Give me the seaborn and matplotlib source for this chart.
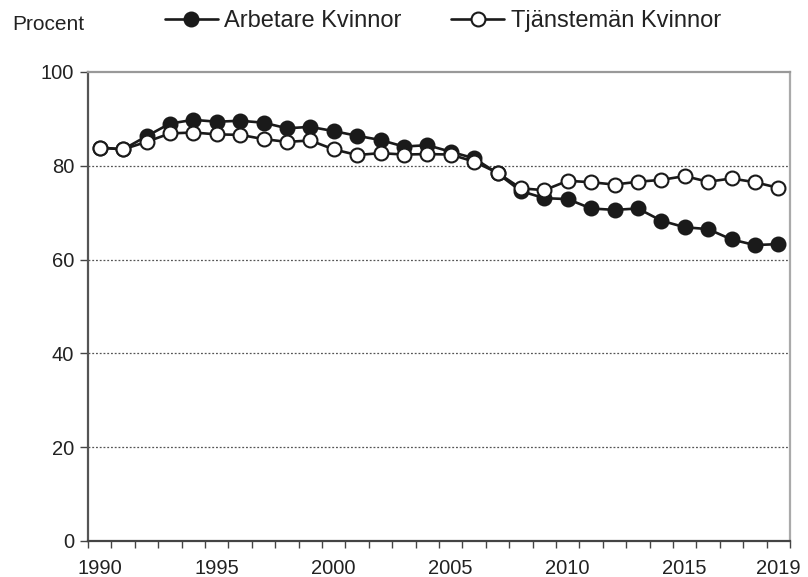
import numpy as np
import pandas as pd
import seaborn as sns
import matplotlib
matplotlib.use("Agg")
import matplotlib.pyplot as plt

years = list(range(1990, 2020))
arbetare = [83.9, 83.5, 86.3, 89.0, 89.8, 89.4, 89.6, 89.2, 88.0, 88.3,
            87.4, 86.4, 85.5, 84.1, 84.4, 83.0, 81.6, 78.4, 74.6, 73.1,
            72.9, 70.9, 70.6, 70.9, 68.3, 66.9, 66.5, 64.3, 63.1, 63.3]
tjanstemen = [83.9, 83.5, 85.1, 86.9, 87.1, 86.7, 86.6, 85.7, 85.1, 85.4,
              83.5, 82.3, 82.7, 82.4, 82.5, 82.4, 80.9, 78.5, 75.2, 74.8,
              76.8, 76.5, 76.0, 76.6, 77.0, 77.8, 76.6, 77.3, 76.5, 75.3]
tick_years = [1990, 1995, 2000, 2005, 2010, 2015, 2019]

df = pd.DataFrame({"År": years, "Arbetare Kvinnor": arbetare,
                   "Tjänstemän Kvinnor": tjanstemen})

sns.set_style("white")
plt.rcParams["font.family"] = ["Liberation Sans", "DejaVu Sans"]

fig = plt.figure(figsize=(8.08, 5.77), dpi=100)
ax = fig.add_axes([88 / 808, 36 / 577, 702 / 808, 469 / 577])

stil = dict(color="#1a1a1a", linewidth=1.9, marker="o", markersize=10,
            markeredgecolor="#1a1a1a", markeredgewidth=1.5)
sns.lineplot(data=df, x="År", y="Arbetare Kvinnor", ax=ax,
             markerfacecolor="#1a1a1a", label="Arbetare Kvinnor", **stil)
sns.lineplot(data=df, x="År", y="Tjänstemän Kvinnor", ax=ax,
             markerfacecolor="white", label="Tjänstemän Kvinnor", **stil)

ax.set_xlim(1989.5, 2019.5)
ax.set_ylim(0, 100)
ax.set_xticks(tick_years)
ax.set_xticklabels([str(y) for y in tick_years])
ax.set_xticks(np.arange(1989.5, 2020.0, 1.0), minor=True)
ax.tick_params(axis="x", which="major", length=0, labelsize=14.5,
               pad=13, labelcolor="#222222")
ax.tick_params(axis="x", which="minor", length=5, width=1, color="#444444",
               direction="out", bottom=True)
ax.set_yticks([0, 20, 40, 60, 80, 100])
ax.tick_params(axis="y", length=6, width=1, color="#444444", direction="out",
               left=True, labelsize=14.5, pad=4, labelcolor="#222222")
ax.set_xlabel("")
ax.set_ylabel("")

for y in [20, 40, 60, 80]:
    ax.axhline(y, color="#555555", linewidth=0.9, linestyle=(0, (1.5, 1.5)),
               zorder=0)

ax.spines["left"].set_color("#555555")
ax.spines["bottom"].set_color("#444444")
ax.spines["top"].set_color("#999999")
ax.spines["right"].set_color("#aaaaaa")
for s in ax.spines.values():
    s.set_linewidth(1.6)

ax.get_legend().remove()
handles, labels = ax.get_legend_handles_labels()
fig.legend(handles, labels, loc="center", bbox_to_anchor=(0.548, 1 - 21 / 577),
           ncol=2, frameon=False, fontsize=17, handlelength=2.25,
           handletextpad=0.27, columnspacing=2.1, borderpad=0,
           labelcolor="#222222")

fig.text(12 / 808, 1 - 25 / 577, "Procent", fontsize=15, va="center",
         ha="left", color="#222222")

fig.savefig("out.png", dpi=100)
